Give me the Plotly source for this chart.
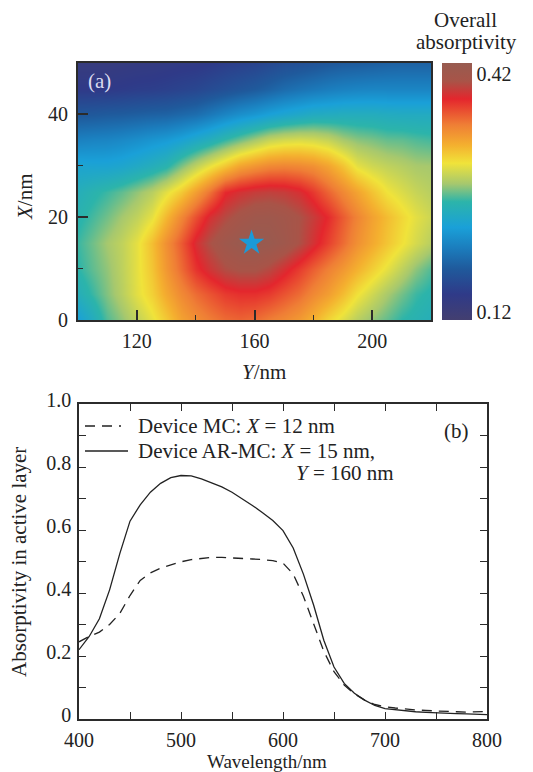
import plotly.graph_objects as go

# ---------------- panel (a) data: overall absorptivity ----------------
y_thick = [100, 105, 110, 115, 120, 125, 130, 135, 140, 145, 150, 155, 160,
           165, 170, 175, 180, 185, 190, 195, 200, 205, 210, 215, 220]          # Y / nm
x_thick = [0, 5, 10, 15, 20, 25, 30, 35, 40, 45, 50]                            # X / nm
absorb_x0 = [0.227, 0.246, 0.266, 0.278, 0.291, 0.304, 0.319, 0.337, 0.348, 0.356, 0.363, 0.366, 0.363,
             0.356, 0.350, 0.342, 0.330, 0.314, 0.301, 0.288, 0.278, 0.269, 0.259, 0.254, 0.249]
absorb_x5 = [0.249, 0.262, 0.275, 0.288, 0.303, 0.316, 0.334, 0.350, 0.363, 0.372, 0.381, 0.385, 0.385,
             0.381, 0.372, 0.363, 0.351, 0.340, 0.325, 0.309, 0.296, 0.283, 0.272, 0.262, 0.256]
absorb_x10 = [0.259, 0.269, 0.278, 0.290, 0.304, 0.321, 0.343, 0.363, 0.384, 0.397, 0.408, 0.413, 0.413,
              0.406, 0.394, 0.381, 0.368, 0.355, 0.343, 0.330, 0.317, 0.304, 0.290, 0.277, 0.266]
absorb_x15 = [0.262, 0.272, 0.282, 0.291, 0.304, 0.324, 0.347, 0.369, 0.394, 0.410, 0.423, 0.431, 0.434,
              0.431, 0.423, 0.410, 0.395, 0.379, 0.363, 0.347, 0.334, 0.321, 0.309, 0.298, 0.288]
absorb_x20 = [0.256, 0.264, 0.272, 0.282, 0.291, 0.304, 0.327, 0.351, 0.374, 0.394, 0.406, 0.416, 0.423,
              0.424, 0.419, 0.411, 0.400, 0.387, 0.369, 0.353, 0.338, 0.325, 0.313, 0.303, 0.295]
absorb_x25 = [0.249, 0.256, 0.262, 0.269, 0.278, 0.288, 0.303, 0.319, 0.340, 0.361, 0.387, 0.395, 0.400,
              0.402, 0.400, 0.394, 0.382, 0.366, 0.351, 0.337, 0.322, 0.308, 0.300, 0.293, 0.288]
absorb_x30 = [0.233, 0.232, 0.232, 0.235, 0.241, 0.248, 0.256, 0.274, 0.291, 0.306, 0.321, 0.337, 0.345,
              0.351, 0.353, 0.351, 0.347, 0.337, 0.322, 0.304, 0.296, 0.291, 0.287, 0.283, 0.282]
absorb_x35 = [0.204, 0.206, 0.207, 0.210, 0.214, 0.219, 0.223, 0.230, 0.240, 0.249, 0.261, 0.272, 0.283,
              0.293, 0.298, 0.300, 0.298, 0.293, 0.283, 0.277, 0.274, 0.270, 0.269, 0.266, 0.264]
absorb_x40 = [0.172, 0.173, 0.175, 0.176, 0.178, 0.180, 0.181, 0.185, 0.189, 0.197, 0.206, 0.214, 0.220,
              0.227, 0.233, 0.238, 0.243, 0.244, 0.246, 0.246, 0.246, 0.244, 0.243, 0.243, 0.243]
absorb_x45 = [0.142, 0.142, 0.142, 0.144, 0.146, 0.147, 0.149, 0.152, 0.155, 0.160, 0.165, 0.170, 0.175,
              0.181, 0.188, 0.193, 0.197, 0.201, 0.204, 0.206, 0.207, 0.207, 0.207, 0.207, 0.207]
absorb_x50 = [0.129, 0.129, 0.129, 0.131, 0.133, 0.134, 0.136, 0.138, 0.139, 0.142, 0.146, 0.149, 0.152,
              0.157, 0.162, 0.165, 0.168, 0.172, 0.175, 0.176, 0.178, 0.180, 0.181, 0.181, 0.181]
absorb_grid = [absorb_x0, absorb_x5, absorb_x10, absorb_x15, absorb_x20, absorb_x25,
               absorb_x30, absorb_x35, absorb_x40, absorb_x45, absorb_x50]
star_y = [159]
star_x = [15]
cbar_ticks = [0.12, 0.42]

# ---------------- panel (b) data: absorptivity spectra ----------------
wavelength = [400, 410, 420, 430, 440, 450, 460, 470, 480, 490, 500, 510, 520, 530, 540, 550,
              560, 570, 580, 590, 600, 610, 620, 630, 640, 650, 660, 670, 680, 690, 700, 710,
              720, 730, 740, 750, 760, 770, 780, 790, 800]
device_mc = [0.245, 0.262, 0.276, 0.300, 0.335, 0.392, 0.440, 0.464, 0.479, 0.490, 0.499, 0.506,
             0.510, 0.513, 0.513, 0.512, 0.510, 0.508, 0.506, 0.503, 0.495, 0.460, 0.390, 0.300,
             0.215, 0.150, 0.108, 0.080, 0.060, 0.046, 0.039, 0.035, 0.031, 0.029, 0.027, 0.025,
             0.024, 0.023, 0.022, 0.022, 0.024]
device_armc = [0.220, 0.262, 0.318, 0.410, 0.525, 0.628, 0.680, 0.720, 0.748, 0.766, 0.773, 0.772,
               0.762, 0.750, 0.737, 0.720, 0.700, 0.678, 0.655, 0.630, 0.598, 0.543, 0.460, 0.362,
               0.250, 0.165, 0.113, 0.082, 0.060, 0.043, 0.033, 0.029, 0.026, 0.023, 0.021, 0.019,
               0.018, 0.017, 0.016, 0.015, 0.014]
legend_mc = "Device MC: <i>X</i> = 12 nm"
legend_armc_1 = "Device AR-MC: <i>X</i> = 15 nm,"
legend_armc_2 = "<i>Y</i> = 160 nm"

# The page body has an 8 px margin, so the figure is sized to end at the window edge
OFF = 8
W, H = 533 - OFF, 772 - OFF


def px(x):
    return (x - OFF) / W


def py(y):
    return 1 - (y - OFF) / H


FONT = "Liberation Serif"
FS = 20
FT = 21
AX = "#2b2b2b"
TXT = "#222"
DASH = "10px,7px"

colorscale = [
    [0.00, "#433f70"], [0.10, "#2f3a88"], [0.20, "#1f5a9c"], [0.28, "#1b7dbd"],
    [0.36, "#1aa0d8"], [0.46, "#2cb4aa"], [0.53, "#a6c86e"], [0.61, "#f0e33a"],
    [0.68, "#f4b02f"], [0.76, "#ef7e35"], [0.86, "#e4262d"], [0.93, "#a85448"],
    [1.00, "#975b50"],
]

fig = go.Figure()

fig.add_trace(go.Heatmap(
    x=y_thick, y=x_thick, z=absorb_grid, zsmooth="best",
    colorscale=colorscale, zmin=0.11, zmax=0.434,
    xaxis="x", yaxis="y", showlegend=False, hoverinfo="skip",
    colorbar=dict(
        x=px(442), xanchor="left", xref="paper",
        y=py(63), yanchor="top", len=(320 - 63) / H, lenmode="fraction",
        thickness=30, thicknessmode="pixels", outlinewidth=0, xpad=0, ypad=0,
        tickvals=cbar_ticks, ticktext=["0.12", "0.42"], ticks="",
        tickfont=dict(family=FONT, size=FS, color=TXT),
    ),
))

fig.add_trace(go.Scatter(
    x=star_y, y=star_x, mode="markers", xaxis="x", yaxis="y", showlegend=False,
    marker=dict(symbol="star", size=19, color="#1b9ad8", line=dict(width=0)),
))

fig.add_trace(go.Scatter(
    x=wavelength, y=device_mc, mode="lines", xaxis="x2", yaxis="y2",
    name=legend_mc, showlegend=False,
    line=dict(color=TXT, width=1.3, dash=DASH),
))
fig.add_trace(go.Scatter(
    x=wavelength, y=device_armc, mode="lines", xaxis="x2", yaxis="y2",
    name=legend_armc_1 + " " + legend_armc_2, showlegend=False,
    line=dict(color=TXT, width=1.3),
))

tickfont = dict(family=FONT, size=FS, color=TXT)


def label(text, x, y, angle=0, color=TXT, anchor="center", size=FT):
    return dict(text=text, x=px(x), y=py(y), xref="paper", yref="paper",
                xanchor=anchor, yanchor="middle", showarrow=False, textangle=angle,
                align="center", font=dict(family=FONT, size=size, color=color))


def key_line(x0, x1, y, dash):
    return dict(type="line", xref="paper", yref="paper",
                x0=px(x0), x1=px(x1), y0=py(y), y1=py(y),
                line=dict(color=TXT, width=1.3, dash=dash))


fig.update_layout(
    width=W, height=H,
    margin=dict(l=0, r=0, t=0, b=0, autoexpand=False),
    paper_bgcolor="white", plot_bgcolor="white",
    font=dict(family=FONT, size=FS, color=TXT),
    xaxis=dict(
        domain=[px(78), px(431)], anchor="y", range=[100, 220], automargin=False,
        tickvals=[120, 160, 200], ticks="inside", ticklen=10, tickwidth=1.5, tickcolor=AX,
        minor=dict(tickvals=[140, 180], ticklen=5, tickwidth=1.2, tickcolor=AX, ticks="inside"),
        showline=True, linecolor=AX, linewidth=1.8, mirror=True, showgrid=False, zeroline=False,
        tickfont=tickfont, ticklabelstandoff=2,
    ),
    yaxis=dict(
        domain=[py(320), py(63)], anchor="x", range=[0, 50], automargin=False,
        tickvals=[0, 20, 40], ticks="inside", ticklen=10, tickwidth=1.5, tickcolor=AX,
        minor=dict(tickvals=[10, 30], ticklen=5, tickwidth=1.2, tickcolor=AX, ticks="inside"),
        showline=True, linecolor=AX, linewidth=1.8, mirror=True, showgrid=False, zeroline=False,
        tickfont=tickfont, ticklabelstandoff=4,
    ),
    xaxis2=dict(
        domain=[px(79), px(487)], anchor="y2", range=[400, 800], automargin=False,
        tickvals=[400, 500, 600, 700, 800], ticks="inside", ticklen=7, tickwidth=1.2, tickcolor=AX,
        minor=dict(tickvals=[450, 550, 650, 750], ticklen=7, tickwidth=1.2, tickcolor=AX, ticks="inside"),
        showline=True, linecolor=AX, linewidth=1.5, mirror="ticks", showgrid=False, zeroline=False,
        tickfont=tickfont, ticklabelstandoff=2,
    ),
    yaxis2=dict(
        domain=[py(719), py(404)], anchor="x2", range=[0, 1.0], automargin=False,
        tickvals=[0, 0.2, 0.4, 0.6, 0.8, 1.0], ticktext=["0", "0.2", "0.4", "0.6", "0.8", "1.0"],
        ticks="inside", ticklen=7, tickwidth=1.2, tickcolor=AX,
        minor=dict(tickvals=[0.1, 0.3, 0.5, 0.7, 0.9], ticklen=7, tickwidth=1.2, tickcolor=AX, ticks="inside"),
        showline=True, linecolor=AX, linewidth=1.5, mirror="ticks", showgrid=False, zeroline=False,
        tickfont=tickfont, ticklabelstandoff=2, ticklabelshift=-4,
    ),
    shapes=[
        key_line(85, 121, 426, DASH),
        key_line(85, 128, 451, "solid"),
    ],
    annotations=[
        label("(a)", 99, 81, color="#dcdcf0"),
        label("(b)", 456, 431),
        label("Overall", 465, 20),
        label("absorptivity", 466, 42),
        label("<i>Y</i>/nm", 264, 372),
        label("<i>X</i>/nm", 25, 197, angle=-90),
        label("Wavelength/nm", 267, 761, size=19),
        label("Absorptivity in active layer", 19, 562, angle=-90),
        label(legend_mc, 136, 426, anchor="left"),
        label(legend_armc_1, 136, 451, anchor="left"),
        label(legend_armc_2, 396, 473, anchor="right"),
    ],
)

fig.write_html("out.html")
